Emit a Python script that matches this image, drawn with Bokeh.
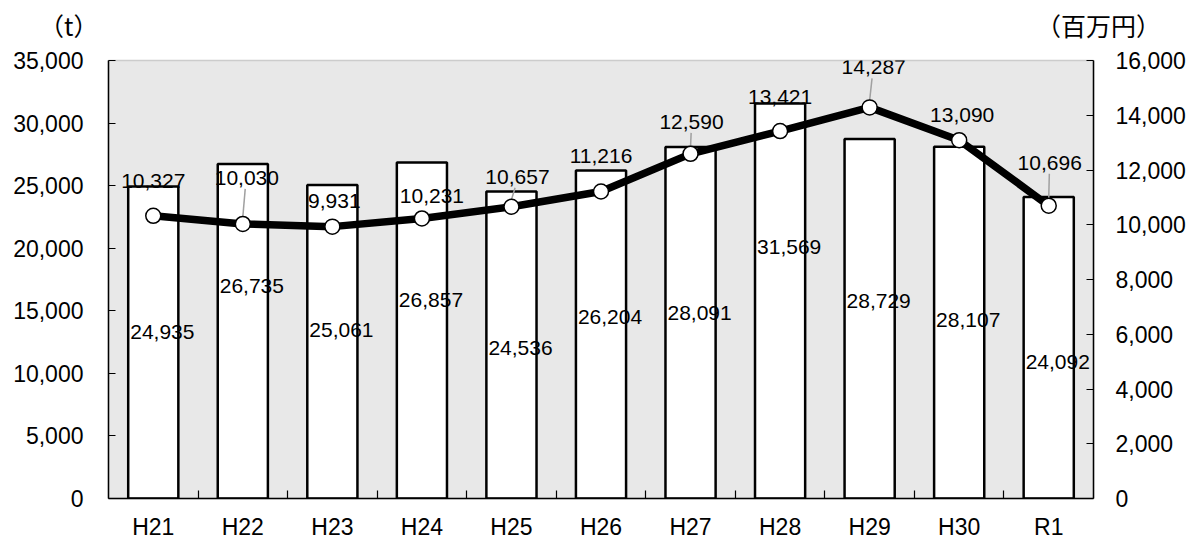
from bokeh.plotting import figure
from bokeh.models import (Range1d, LinearAxis, FixedTicker, NumeralTickFormatter,
                          ColumnDataSource, Div)
from bokeh.layouts import column
from bokeh.core.properties import value
from bokeh.embed import file_html
from bokeh.resources import INLINE

# ---- data ----
years = ["H21", "H22", "H23", "H24", "H25", "H26", "H27", "H28", "H29", "H30", "R1"]
volume_t = [24935, 26735, 25061, 26857, 24536, 26204, 28091, 31569, 28729, 28107, 24092]
value_mil_yen = [10327, 10030, 9931, 10231, 10657, 11216, 12590, 13421, 14287, 13090, 10696]
left_ticks = [0, 5000, 10000, 15000, 20000, 25000, 30000, 35000]
right_ticks = [0, 2000, 4000, 6000, 8000, 10000, 12000, 14000, 16000]
unit_left = "（t）"
unit_right = "（百万円）"

# ---- layout tweaks (pixels) ----
bar_label_drop = [146, 122, 145, 138, 157, 146, 166, 144, 162, 173, 165]   # below bar top
line_label_dx = [0, 4, 2, 10, 6, 0, 1, 0, 4, 3, 1]
line_label_dy = [-35, -46, -26, -22, -30, -35, -32, -34, -40, -25, -43]
leader = [False, True, False, False, True, False, True, False, True, False, True]

FW, FH = 985, 438
YMAX_L, YMAX_R = 35000, 16000
n = len(years)
BAR_W = 0.56
px_l = YMAX_L / FH
px_r = YMAX_R / FH
px_x = n / FW

FONT = "Liberation Sans"
CJK = "Noto Sans CJK JP"

xs = [i + 0.5 for i in range(n)]

HEAD = 46
header = Div(
    text=(f'<div style="position:relative;width:1186px;height:{HEAD}px;'
          f'font-family:\'{CJK}\';font-size:25px;line-height:25px;color:black;white-space:nowrap;">'
          f'<span style="position:absolute;left:39px;top:13px;">{unit_left}</span>'
          f'<span style="position:absolute;left:1036px;top:13px;">{unit_right}</span>'
          '</div>'),
    width=1186, height=HEAD, margin=(0, 0, 0, 0))

p = figure(x_range=Range1d(0, n), y_range=Range1d(0, YMAX_L),
           frame_width=FW, frame_height=FH,
           output_backend="svg", toolbar_location=None,
           min_border_left=108, min_border_top=60 - HEAD, min_border_right=94,
           min_border_bottom=36, margin=(0, 0, 0, 0))
p.extra_y_ranges = {"money": Range1d(0, YMAX_R)}
p.background_fill_color = "#e8e8e8"
p.border_fill_color = "white"
p.outline_line_color = "#cccccc"
p.outline_line_width = 1.5
p.xgrid.visible = False
p.ygrid.visible = False

# left axis
ya = p.yaxis[0]
ya.ticker = FixedTicker(ticks=left_ticks)
ya.formatter = NumeralTickFormatter(format="0,0")
ya.major_tick_in = 7
ya.major_tick_out = 0
ya.minor_tick_line_color = None
ya.axis_line_color = "black"
ya.axis_line_width = 1.5
ya.major_tick_line_width = 1.2
ya.major_label_standoff = 25
ya.major_label_text_font = FONT
ya.major_label_text_font_size = "23px"
ya.major_label_text_color = "black"

# right axis
ra = LinearAxis(y_range_name="money", ticker=FixedTicker(ticks=right_ticks),
                formatter=NumeralTickFormatter(format="0,0"))
ra.major_tick_in = 7
ra.major_tick_out = 0
ra.minor_tick_line_color = None
ra.axis_line_color = "black"
ra.axis_line_width = 1.5
ra.major_tick_line_width = 1.2
ra.major_label_standoff = 22
ra.major_label_text_font = FONT
ra.major_label_text_font_size = "23px"
ra.major_label_text_color = "black"
p.add_layout(ra, "right")

# bottom axis
xa = p.xaxis[0]
xa.ticker = FixedTicker(ticks=xs, minor_ticks=list(range(1, n)))
xa.major_label_overrides = {x: y for x, y in zip(xs, years)}
xa.major_tick_line_color = None
xa.minor_tick_in = 8
xa.minor_tick_out = 0
xa.minor_tick_line_color = "black"
xa.minor_tick_line_width = 1.2
xa.axis_line_color = "black"
xa.axis_line_width = 1.5
xa.major_label_standoff = 9
xa.major_label_text_font = FONT
xa.major_label_text_font_size = "23px"
xa.major_label_text_color = "black"

# bars
p.vbar(x=xs, top=volume_t, width=BAR_W, fill_color="white",
       line_color="black", line_width=2.5)

# bar labels
bar_src = ColumnDataSource(dict(
    x=[x - BAR_W / 2 + 2 * px_x for x in xs],
    y=[v - d * px_l for v, d in zip(volume_t, bar_label_drop)],
    t=[f"{v:,}" for v in volume_t]))
p.text(x="x", y="y", text="t", source=bar_src, text_align="left",
       text_baseline="middle", text_font=value(FONT), text_font_size="21px",
       text_color="black")

# leader lines
lx0, ly0, lx1, ly1 = [], [], [], []
for i in range(n):
    if leader[i]:
        lx0.append(xs[i] + (line_label_dx[i] * 0.6) * px_x)
        ly0.append(value_mil_yen[i] - (line_label_dy[i] + 11) * px_r)
        lx1.append(xs[i])
        ly1.append(value_mil_yen[i] + 7 * px_r)
p.segment(x0=lx0, y0=ly0, x1=lx1, y1=ly1, y_range_name="money",
          line_color="#a0a0a0", line_width=1.5)

# line + markers
p.line(xs, value_mil_yen, y_range_name="money", line_color="black", line_width=7.5)
p.scatter(xs, value_mil_yen, y_range_name="money", size=15, fill_color="white",
          line_color="black", line_width=1.5)

# line labels
ln_src = ColumnDataSource(dict(
    x=[x + dx * px_x for x, dx in zip(xs, line_label_dx)],
    y=[v - dy * px_r for v, dy in zip(value_mil_yen, line_label_dy)],
    t=[f"{v:,}" for v in value_mil_yen]))
p.text(x="x", y="y", text="t", source=ln_src, y_range_name="money",
       text_align="center", text_baseline="middle", text_font=value(FONT),
       text_font_size="21px", text_color="black")

layout = column(header, p, spacing=0, margin=(0, 0, 0, 0))
open("out.html", "w").write(file_html(layout, INLINE))
